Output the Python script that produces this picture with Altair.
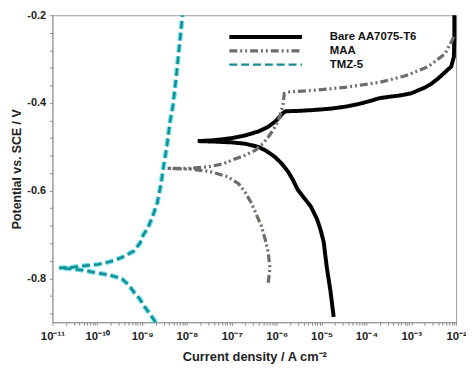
import json
import altair as alt
import pandas as pd

# ---------------- data ----------------
series_names = ["Bare AA7075-T6", "MAA", "TMZ-5"]
series_colors = ["#000000", "#6f6b68", "#178c91"]
series_dash = [[1, 0], [8, 3, 2, 3, 2, 3], [8, 4]]
series_width = [4, 2.5, 3]

# log10 of current density (A cm-2) and potential (V vs SCE)
bare_logi = [-4.73, -4.80, -4.88, -4.92, -4.95, -5.02, -5.10, -5.24, -5.40, -5.53,
             -5.64, -5.75, -5.90, -6.04, -6.22, -6.41, -6.70, -6.99, -7.40, -7.76,
             -7.40, -6.99, -6.70, -6.41, -6.20, -6.04, -5.92, -5.86, -5.80, -5.50,
             -5.17, -4.80, -4.44, -4.25, -4.08, -3.90, -3.71, -3.49, -3.20, -3.00,
             -2.84, -2.70, -2.55, -2.40, -2.25, -2.11, -2.05, -2.04, -2.04]
bare_e = [-0.888, -0.830, -0.777, -0.745, -0.718, -0.690, -0.665, -0.636, -0.615, -0.598,
          -0.575, -0.556, -0.537, -0.523, -0.510, -0.500, -0.493, -0.490, -0.488, -0.487,
          -0.485, -0.480, -0.474, -0.465, -0.455, -0.443, -0.430, -0.423, -0.419, -0.418,
          -0.416, -0.413, -0.408, -0.404, -0.400, -0.395, -0.389, -0.386, -0.382, -0.378,
          -0.371, -0.365, -0.356, -0.344, -0.330, -0.317, -0.295, -0.250, -0.200]

maa_logi = [-6.19, -6.15, -6.19, -6.26, -6.34, -6.45, -6.56, -6.70, -6.85, -7.10,
            -7.50, -7.90, -8.45,
            -7.90, -7.50, -7.20, -6.99, -6.72, -6.48, -6.30, -6.19, -6.07, -5.97,
            -5.90, -5.86, -5.83, -5.75, -5.17, -4.44, -3.71, -3.13, -2.62, -2.25, -2.04]
maa_e = [-0.810, -0.777, -0.740, -0.710, -0.681, -0.655, -0.629, -0.604, -0.584, -0.568,
         -0.556, -0.551, -0.549,
         -0.549, -0.545, -0.539, -0.530, -0.520, -0.508, -0.492, -0.478, -0.460, -0.442,
         -0.420, -0.404, -0.378, -0.375, -0.371, -0.364, -0.353, -0.338, -0.317, -0.288, -0.247]

tmz_logi = [-8.70, -8.82, -8.95, -9.06, -9.17, -9.31, -9.45, -9.73, -9.98, -10.28,
            -10.60, -10.85,
            -10.60, -10.28, -9.98, -9.75, -9.47, -9.19, -9.05, -8.97, -8.88, -8.77,
            -8.66, -8.58, -8.53, -8.45, -8.38, -8.31, -8.25, -8.195, -8.15, -8.10]
tmz_e = [-0.900, -0.882, -0.864, -0.846, -0.833, -0.814, -0.801, -0.792, -0.788, -0.782,
         -0.778, -0.776,
         -0.775, -0.771, -0.768, -0.763, -0.753, -0.738, -0.720, -0.700, -0.687, -0.660,
         -0.627, -0.585, -0.549, -0.500, -0.444, -0.404, -0.350, -0.295, -0.250, -0.200]

x_decades = list(range(-11, -1))
x_tick_labels = ["10⁻¹¹", "10⁻¹⁰", "10⁻⁹", "10⁻⁸", "10⁻⁷", "10⁻⁶",
                 "10⁻⁵", "10⁻⁴", "10⁻³", "10⁻²"]
y_domain = [-0.9, -0.2]
y_ticks = [-0.2, -0.24, -0.28, -0.32, -0.36, -0.4, -0.44, -0.48, -0.52, -0.56,
           -0.6, -0.64, -0.68, -0.72, -0.76, -0.8, -0.84, -0.88]

# ---------------- table ----------------
rows = []
for name, li, ee in [(series_names[0], bare_logi, bare_e),
                     (series_names[1], maa_logi, maa_e),
                     (series_names[2], tmz_logi, tmz_e)]:
    for k, (a, b) in enumerate(zip(li, ee)):
        rows.append({"series": name, "idx": k, "i": 10 ** a, "E": b})
df = pd.DataFrame(rows)

x_ticks = []
for d in x_decades[:-1]:
    for m in range(1, 10):
        x_ticks.append(m * 10.0 ** d)
x_ticks.append(10.0 ** x_decades[-1])

FONT = "Liberation Sans"
lab_js = json.dumps(x_tick_labels, ensure_ascii=False)
ex = "log(datum.value)/LN10"
x_label_expr = (f"abs({ex} - round({ex})) < 0.001 ? "
                f"{lab_js}[round({ex}) + 11] : ''")
y_label_expr = ("abs(datum.value*5 - round(datum.value*5)) < 0.001 ? "
                "'-' + format(abs(datum.value), '.1f') : ''")

x_enc = alt.X("i:Q",
              scale=alt.Scale(type="log", domain=[1e-11, 1e-2], nice=False),
              axis=alt.Axis(values=x_ticks, labelExpr=x_label_expr,
                            title="Current density / A cm⁻²", grid=False,
                            tickSize=3, tickColor="#888", domainColor="#999",
                            labelFont=FONT, labelFontSize=11.5, labelFontWeight="bold",
                            labelColor="#222", labelPadding=5, labelFlush=False,
                            titleFont=FONT, titleFontSize=13, titleFontWeight="bold",
                            titleColor="#222", titlePadding=9))
y_enc = alt.Y("E:Q",
              scale=alt.Scale(domain=y_domain, nice=False, zero=False),
              axis=alt.Axis(values=y_ticks, labelExpr=y_label_expr,
                            title="Potential vs. SCE / V", grid=False,
                            tickSize=3, tickColor="#888", domainColor="#999",
                            labelFont=FONT, labelFontSize=11, labelFontWeight="bold",
                            labelColor="#222", labelPadding=4,
                            titleFont=FONT, titleFontSize=12.5, titleFontWeight="bold",
                            titleColor="#222", titlePadding=3))

leg = alt.Legend(orient="none", legendX=177, legendY=15, title=None,
                 symbolType="stroke", symbolSize=5400, clipHeight=14,
                 rowPadding=0, padding=0, labelOffset=26,
                 labelFont=FONT, labelFontSize=11.5, labelFontWeight="bold",
                 labelColor="#111")

glow = alt.Chart(df).transform_filter(
    alt.datum.series == series_names[2]
).mark_line(strokeWidth=5, strokeDash=series_dash[2], color="#45dbe8", opacity=0.8).encode(
    x=x_enc, y=y_enc, order="idx:Q"
)

main = alt.Chart(df).mark_line().encode(
    x=x_enc, y=y_enc, order="idx:Q",
    color=alt.Color("series:N", scale=alt.Scale(domain=series_names, range=series_colors), legend=leg),
    strokeDash=alt.StrokeDash("series:N", scale=alt.Scale(domain=series_names, range=series_dash), legend=leg),
    strokeWidth=alt.StrokeWidth("series:O", scale=alt.Scale(domain=series_names, range=series_width), legend=leg),
)

chart = alt.layer(glow, main).properties(
    width=409, height=311,
    autosize=alt.AutoSizeParams(type="none"),
    padding={"left": 45, "top": 5, "right": 10, "bottom": 44},
).configure_view(stroke="#999", strokeWidth=1)

chart.save("out.html", embed_options={"renderer": "svg", "actions": False})
